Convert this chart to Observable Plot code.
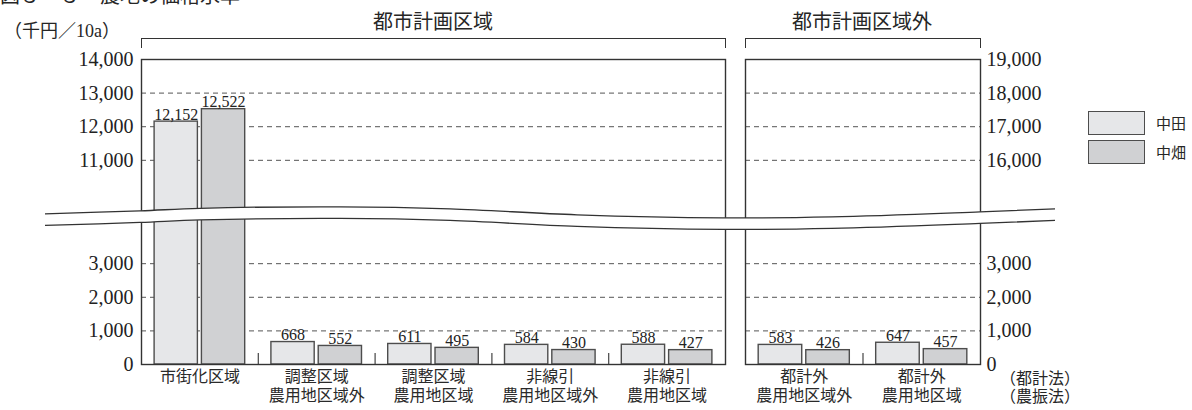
<!DOCTYPE html>
<html><head><meta charset="utf-8">
<script src="https://cdn.jsdelivr.net/npm/d3@7"></script>
<script src="https://cdn.jsdelivr.net/npm/@observablehq/plot@0.6"></script>
<style>
html,body{margin:0;padding:0;background:#fff;}
#chart{position:relative;width:1192px;height:410px;overflow:hidden;background:#fff;color:#222;}
#chart svg{position:absolute;left:0;top:0;}
.t{position:absolute;white-space:nowrap;font-family:'Noto Sans CJK JP',sans-serif;color:#262626;}
.br{position:absolute;box-sizing:border-box;border:1.3px solid #333;border-bottom:none;height:10px;}
.sw{position:absolute;box-sizing:border-box;border:1.5px solid #4d4d4d;width:57px;height:24px;}
</style></head><body><div id="chart"></div>
<script>
// ---- data ----
const seriesNames = ["中田", "中畑"];
const seriesColors = ["#e6e7e9", "#d0d1d3"];
const leftGroups = ["市街化区域", "調整区域\n農用地区域外", "調整区域\n農用地区域", "非線引\n農用地区域外", "非線引\n農用地区域"];
const leftTa = [12152, 668, 611, 584, 588];
const leftHata = [12522, 552, 495, 430, 427];
const rightGroups = ["都計外\n農用地区域外", "都計外\n農用地区域"];
const rightTa = [583, 647];
const rightHata = [426, 457];
const leftTickValues = [0, 1000, 2000, 3000, 11000, 12000, 13000, 14000];
const rightTickValues = [0, 1000, 2000, 3000, 16000, 17000, 18000, 19000];
const leftGridValues = [1000, 2000, 3000, 11000, 12000, 13000];
const rightGridValues = [1000, 2000, 3000, 16000, 17000, 18000];
const panelTitles = ["都市計画区域", "都市計画区域外"];
const unitLabel = "（千円／10a）";
const lawLabels = ["（都計法）", "（農振法）"];
const figTitle = "図３－３　農地の価格水準";

// ---- layout ----
const W = 1192, H = 410, MT = 59, MB = 46;
const numFont = "'Liberation Serif', 'Noto Sans CJK JP', serif";
const jaFont = "'Noto Sans CJK JP', sans-serif";
const fmt = d3.format(",");
const TOP = 9075;          // compressed top of the value axis
const BREAK_AT = 5000;     // values above this are drawn in the upper segment
const chart = document.getElementById("chart");

function drawPanel(p) {
  const comp = v => v >= BREAK_AT ? v - p.offset : v;
  const rows = p.groups.flatMap((g, i) => [{g, s: seriesNames[0], v: p.ta[i]}, {g, s: seriesNames[1], v: p.hata[i]}]);
  const step = (p.x2 - p.x1) / p.groups.length;
  const inner = d3.scaleBand().domain(seriesNames).range([0, step]).paddingInner(0.085).paddingOuter(0.277);
  const bw = inner.bandwidth();
  const tickMap = new Map(p.ticks.map(t => [comp(t), fmt(t)]));
  const bars = seriesNames.map((s, k) => Plot.barY(rows.filter(d => d.s === s), {
    x: "g", y: d => comp(d.v), fill: seriesColors[k], stroke: "#4d4d4d", strokeWidth: 1.4,
    insetLeft: inner(s), insetRight: step - inner(s) - bw
  }));
  const labels = seriesNames.map((s) => Plot.text(rows.filter(d => d.s === s), {
    x: "g", y: d => comp(d.v), text: d => fmt(d.v), dx: inner(s) + bw / 2 - step / 2, dy: -2,
    lineAnchor: "bottom", fontSize: 16, fontFamily: numFont, fill: "#222"
  }));
  return Plot.plot({
    width: W, height: H, marginTop: MT, marginBottom: MB, marginLeft: p.x1, marginRight: W - p.x2,
    x: {type: "band", domain: p.groups, padding: 0, round: false, label: null},
    y: {domain: [0, TOP], label: null},
    style: {background: "transparent", overflow: "visible", color: "#222"},
    marks: [
      Plot.ruleY(p.grid.map(comp), {stroke: "#555", strokeWidth: 1, strokeDasharray: "5,4"}),
      ...bars,
      ...labels,
      Plot.ruleX(p.groups.slice(1), {x: d => d, dx: -step / 2, y1: 0, y2: 330, stroke: "#444", strokeWidth: 1.2}),
      Plot.frame({stroke: "#333", strokeWidth: 1.4}),
      Plot.axisY(p.ticks.map(comp), {anchor: p.anchor, tickSize: 0, tickPadding: p.pad,
        tickFormat: v => tickMap.get(v), fontSize: 20, fontFamily: numFont}),
      Plot.axisX({tickSize: 0, tickPadding: 5, fontSize: 16, fontFamily: jaFont, lineHeight: 1.14, fill: "#2a2a2a"})
    ]
  });
}

const leftPlot = drawPanel({groups: leftGroups, ta: leftTa, hata: leftHata, ticks: leftTickValues,
  grid: leftGridValues, offset: 14000 - TOP, x1: 141, x2: 725, anchor: "left", pad: 8});
const rightPlot = drawPanel({groups: rightGroups, ta: rightTa, hata: rightHata, ticks: rightTickValues,
  grid: rightGridValues, offset: 19000 - TOP, x1: 745, x2: 980, anchor: "right", pad: 6});
chart.appendChild(leftPlot);
chart.appendChild(rightPlot);

// ---- axis break (decoration) ----
let yOf = v => MT + (H - MT - MB) * (1 - v / TOP);
try { const sc = leftPlot.scale("y"); if (sc && sc.apply) yOf = v => sc.apply(v); } catch (e) {}
const breakCenter = yOf(4400);
const waveX = [45, 140, 200, 340, 450, 577, 723, 832, 980, 1055];
const waveDy = [3.5, 0.5, -2, -3.5, -1.5, 4.5, 7.5, 6.5, 1.5, -1.5];
const half = 5.8;
const topPts = waveX.map((x, i) => [x, breakCenter + waveDy[i] - half]);
const botPts = waveX.map((x, i) => [x, breakCenter + waveDy[i] + half]);
const ns = "http://www.w3.org/2000/svg";
const ov = document.createElementNS(ns, "svg");
ov.setAttribute("width", W); ov.setAttribute("height", H);
const lineGen = d3.line().curve(d3.curveCatmullRom.alpha(0.5));
const band = document.createElementNS(ns, "path");
const bandPath = lineGen(topPts) + "L" + lineGen(botPts.slice().reverse()).slice(1) + "Z";
band.setAttribute("d", bandPath); band.setAttribute("fill", "#fff");
ov.appendChild(band);
for (const pts of [topPts, botPts]) {
  const pth = document.createElementNS(ns, "path");
  pth.setAttribute("d", lineGen(pts)); pth.setAttribute("fill", "none");
  pth.setAttribute("stroke", "#333"); pth.setAttribute("stroke-width", "1.3");
  ov.appendChild(pth);
}
chart.appendChild(ov);

// ---- texts ----
function addText(txt, css) {
  const d = document.createElement("div"); d.className = "t"; d.textContent = txt;
  Object.assign(d.style, css); chart.appendChild(d); return d;
}
addText(figTitle, {left: "0px", top: "-15px", fontSize: "20px", lineHeight: "20px"});
addText(unitLabel, {left: "4px", top: "20px", fontSize: "18px", lineHeight: "22px", fontFamily: numFont});
addText(panelTitles[0], {left: "433px", top: "10px", fontSize: "20px", lineHeight: "22px", transform: "translateX(-50%)"});
addText(panelTitles[1], {left: "862px", top: "10px", fontSize: "20px", lineHeight: "22px", transform: "translateX(-50%)"});
addText(lawLabels[0], {left: "1000px", top: "368px", fontSize: "16px", lineHeight: "18px"});
addText(lawLabels[1], {left: "1000px", top: "386px", fontSize: "16px", lineHeight: "18px"});

// brackets
for (const [l, r] of [[141, 725], [745, 980]]) {
  const b = document.createElement("div"); b.className = "br";
  Object.assign(b.style, {left: l + "px", top: "38px", width: (r - l + 1) + "px"});
  chart.appendChild(b);
}

// legend
seriesNames.forEach((s, k) => {
  const sw = document.createElement("div"); sw.className = "sw";
  Object.assign(sw.style, {left: "1088px", top: (111 + k * 29) + "px", background: seriesColors[k]});
  chart.appendChild(sw);
  addText(s, {left: "1156px", top: (112 + k * 29) + "px", fontSize: "15px", lineHeight: "22px"});
});
</script></body></html>
